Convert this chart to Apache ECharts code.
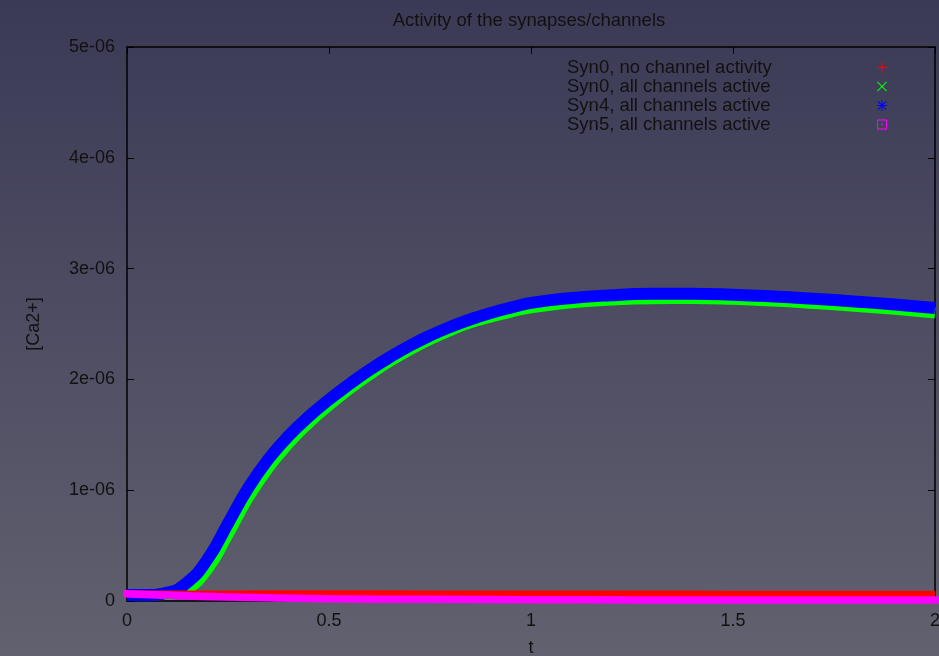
<!DOCTYPE html>
<html>
<head>
<meta charset="utf-8">
<title>Activity of the synapses/channels</title>
<script src="https://cdn.jsdelivr.net/npm/echarts@6.0.0/dist/echarts.min.js"></script>
<style>
    html, body { margin: 0; padding: 0; }
    #chart { width: 939px; height: 656px; }
</style>
</head>
<body>
<div id="chart"></div>
<script>
// values are [Ca2+] in units of 1e-06
const tFine = [0, 0.05, 0.1, 0.15, 0.2, 0.25, 0.3, 0.35, 0.4, 0.45, 0.5, 0.55, 0.6, 0.65, 0.7, 0.75, 0.8, 0.85, 0.9, 0.95, 1.0, 1.1, 1.2, 1.3, 1.4, 1.5, 1.6, 1.7, 1.8, 1.9, 2.0]
const syn4All = [0.055, 0.055, 0.075, 0.17, 0.38, 0.70, 1.02, 1.28, 1.49, 1.665, 1.817, 1.956, 2.084, 2.20, 2.304, 2.395, 2.474, 2.542, 2.60, 2.648, 2.69, 2.735, 2.76, 2.772, 2.774, 2.765, 2.749, 2.728, 2.704, 2.676, 2.645]
const syn0All = [0.055, 0.055, 0.06, 0.11, 0.29, 0.60, 0.93, 1.20, 1.42, 1.605, 1.765, 1.91, 2.04, 2.16, 2.265, 2.36, 2.44, 2.51, 2.562, 2.608, 2.646, 2.692, 2.717, 2.729, 2.731, 2.723, 2.707, 2.685, 2.66, 2.632, 2.60]

const tCoarse = [0, 0.25, 0.5, 0.75, 1.0, 1.25, 1.5, 1.75, 2.0]
const syn0None = [0.065, 0.066, 0.067, 0.066, 0.065, 0.065, 0.064, 0.064, 0.063]
const syn5All = [0.065, 0.036, 0.02, 0.015, 0.012, 0.01, 0.01, 0.009, 0.008]

const seriesNames = ['Syn0, no channel activity', 'Syn0, all channels active', 'Syn4, all channels active', 'Syn5, all channels active']
const xTicks = { min: 0, max: 2, interval: 0.5 }
const yTicks = { min: 0, max: 5, interval: 1 }

const FONT = 'Liberation Sans'
const INK = '#111'

function pairs(xs, ys) {
    return xs.map((x, i) => [x, ys[i]])
}

const icons = {
    plus: 'path://M9,0h2v9h9v2h-9v9h-2v-9h-9v-2h9z',
    cross: 'path://M1.4,0L10,8.6L18.6,0L20,1.4L11.4,10L20,18.6L18.6,20L10,11.4L1.4,20L0,18.6L8.6,10L0,1.4Z',
    star: 'path://M9,0h2v9h9v2h-9v9h-2v-9h-9v-2h9zM2.4,1L10,8.6L17.6,1L19,2.4L11.4,10L19,17.6L17.6,19L10,11.4L2.4,19L1,17.6L8.6,10L1,2.4Z',
    box: 'path://M0,0h20v20h-20zM2,2v16h16v-16zM8.5,8.5h3v3h-3z'
}

const axisCommon = {
    axisLine: { show: true, onZero: false, lineStyle: { color: '#000', width: 1.5 } },
    axisTick: { show: true, inside: true, length: 7, lineStyle: { color: '#000', width: 1 } },
    splitLine: { show: false }
}

function band(name, color, xs, ys, width, z, cap) {
    return {
        name: name,
        type: 'line',
        color: color,
        data: pairs(xs, ys),
        smooth: true,
        symbol: 'none',
        clip: false,
        z: z,
        lineStyle: { width: width, color: color, cap: cap || 'butt' }
    }
}

let chart = echarts.init(document.getElementById('chart'), null, { renderer: 'canvas' })
chart.setOption({
    backgroundColor: new echarts.graphic.LinearGradient(0, 0, 0, 1, [
        { offset: 0, color: '#3b3a56' },
        { offset: 0.5, color: '#4e4d63' },
        { offset: 1, color: '#61616f' }
    ]),
    textStyle: { fontFamily: FONT, color: INK },
    title: {
        text: 'Activity of the synapses/channels',
        left: 524,
        textAlign: 'center',
        top: 6,
        textStyle: { fontFamily: FONT, fontSize: 18.5, fontWeight: 'normal', color: INK }
    },
    legend: {
        orient: 'vertical',
        align: 'right',
        left: 567,
        top: 58,
        padding: 0,
        itemWidth: 10,
        itemHeight: 10,
        itemGap: 0,
        selectedMode: false,
        itemStyle: { borderWidth: 0 },
        formatter: name => '{a|' + name + '}',
        textStyle: {
            fontFamily: FONT,
            fontSize: 18.5,
            color: INK,
            rich: {
                a: { width: 305, align: 'left', fontFamily: FONT, fontSize: 18.5, lineHeight: 18.5, color: INK }
            }
        },
        data: [
            { name: seriesNames[0], icon: icons.plus },
            { name: seriesNames[1], icon: icons.cross },
            { name: seriesNames[2], icon: icons.star },
            { name: seriesNames[3], icon: icons.box }
        ]
    },
    grid: { left: 127, right: 4, top: 47, bottom: 55, outerBoundsMode: 'none' },
    xAxis: [
        Object.assign({
            type: 'value',
            position: 'bottom',
            name: 't',
            nameLocation: 'middle',
            nameGap: 38,
            nameTextStyle: { fontFamily: FONT, fontSize: 18, color: INK },
            axisLabel: { fontFamily: FONT, fontSize: 18, color: INK, margin: 11 }
        }, xTicks, axisCommon),
        Object.assign({
            type: 'value',
            position: 'top',
            axisLabel: { show: false }
        }, xTicks, axisCommon)
    ],
    yAxis: [
        Object.assign({
            type: 'value',
            position: 'left',
            name: '[Ca2+]',
            nameLocation: 'middle',
            nameGap: 84,
            nameTextStyle: { fontFamily: FONT, fontSize: 18, color: INK },
            axisLabel: {
                fontFamily: FONT,
                fontSize: 18,
                color: INK,
                margin: 12,
                formatter: v => v === 0 ? '0' : v + 'e-06'
            }
        }, yTicks, axisCommon),
        Object.assign({
            type: 'value',
            position: 'right',
            axisLabel: { show: false }
        }, yTicks, axisCommon)
    ],
    series: [
        band(seriesNames[1], '#00ff00', tFine, syn0All, 11, 2),
        band(seriesNames[2], '#0000ff', tFine, syn4All, 12, 3),
        band(seriesNames[0], '#ff0000', tCoarse, syn0None, 6.5, 4),
        band(seriesNames[3], '#ff00ff', tCoarse, syn5All, 7.5, 5, 'square')
    ]
})
</script>
</body>
</html>
